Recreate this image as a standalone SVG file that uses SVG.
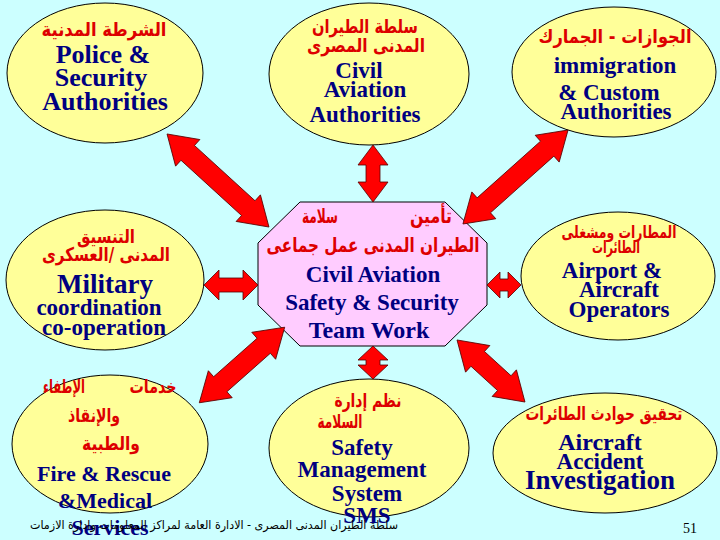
<svg xmlns="http://www.w3.org/2000/svg" width="720" height="540" viewBox="0 0 720 540">
<style>
.bg{fill:#ccffff}
.ell{fill:#ffff99;stroke:#000;stroke-width:1}
.oct{fill:#ffccff;stroke:#000;stroke-width:1}
.arr{fill:#ff0000;stroke:#550000;stroke-width:0.8;stroke-linejoin:miter}
.en{font-family:"Liberation Serif","Times New Roman",serif;font-weight:bold;fill:#000080;text-anchor:middle}
.ar{font-family:"DejaVu Sans","Noto Sans",sans-serif;font-weight:bold;fill:#dd0000;text-anchor:middle}
.ft{font-family:"DejaVu Sans","Liberation Sans",sans-serif;fill:#000;font-size:12px;text-anchor:middle}
</style>
<rect class="bg" x="0" y="0" width="720" height="540"/>

<g id="police">
<ellipse class="ell" cx="105" cy="73" rx="98" ry="70"/>
<text class="ar" x="104" y="36" font-size="19" textLength="125" lengthAdjust="spacingAndGlyphs">الشرطة المدنية</text>
<text class="en" x="103" y="63" font-size="26">Police &amp;</text>
<text class="en" x="101" y="86" font-size="26">Security</text>
<text class="en" x="105" y="110" font-size="26">Authorities</text>
</g>

<g id="civil-aviation">
<ellipse class="ell" cx="369" cy="74" rx="100" ry="71"/>
<text class="ar" x="365" y="33" font-size="19" textLength="106" lengthAdjust="spacingAndGlyphs">سلطة الطيران</text>
<text class="ar" x="366" y="52" font-size="19" textLength="118" lengthAdjust="spacingAndGlyphs">المدنى المصرى</text>
<text class="en" x="359" y="78" font-size="23">Civil</text>
<text class="en" x="365" y="97" font-size="23">Aviation</text>
<text class="en" x="365" y="122" font-size="23">Authorities</text>
</g>

<g id="immigration">
<ellipse class="ell" cx="614" cy="72" rx="102" ry="65"/>
<text class="ar" x="615" y="43" font-size="19" textLength="153" lengthAdjust="spacingAndGlyphs">الجوازات - الجمارك</text>
<text class="en" x="615" y="73" font-size="23">immigration</text>
<text class="en" x="609" y="100" font-size="23">&amp; Custom</text>
<text class="en" x="616" y="119" font-size="23">Authorities</text>
</g>

<g id="military">
<ellipse class="ell" cx="105" cy="280" rx="99" ry="70"/>
<text class="ar" x="106" y="243" font-size="19" textLength="58" lengthAdjust="spacingAndGlyphs">التنسيق</text>
<text class="ar" x="106" y="261" font-size="19" textLength="128" lengthAdjust="spacingAndGlyphs">المدنى /العسكرى</text>
<text class="en" x="105" y="293" font-size="27">Military</text>
<text class="en" x="99" y="315" font-size="23">coordination</text>
<text class="en" x="104" y="335" font-size="23">co-operation</text>
</g>

<g id="center">
<polygon class="oct" points="300,202 445,202 487,243 487,305 445,346 300,346 258,305 258,243"/>
<text class="ar" x="431" y="223" font-size="20" textLength="42" lengthAdjust="spacingAndGlyphs">تأمين</text>
<text class="ar" x="320" y="223" font-size="20" textLength="36" lengthAdjust="spacingAndGlyphs">سلامة</text>
<text class="ar" x="373" y="252" font-size="20" textLength="213" lengthAdjust="spacingAndGlyphs">الطيران المدنى عمل جماعى</text>
<text class="en" x="373" y="282" font-size="23">Civil Aviation</text>
<text class="en" x="372" y="310" font-size="23">Safety &amp; Security</text>
<text class="en" x="369" y="338" font-size="24">Team Work</text>
</g>

<g id="airport">
<ellipse class="ell" cx="618" cy="276" rx="97" ry="64"/>
<text class="ar" x="619" y="238" font-size="17" textLength="115" lengthAdjust="spacingAndGlyphs">المطارات ومشغلى</text>
<text class="ar" x="616" y="253" font-size="17" textLength="48" lengthAdjust="spacingAndGlyphs">الطائرات</text>
<text class="en" x="612" y="278" font-size="23">Airport &amp;</text>
<text class="en" x="619" y="297" font-size="23">Aircraft</text>
<text class="en" x="619" y="317" font-size="23">Operators</text>
</g>

<g id="fire-rescue">
<ellipse class="ell" cx="110" cy="444" rx="98" ry="69"/>
<text class="ar" x="153" y="393" font-size="19" textLength="47" lengthAdjust="spacingAndGlyphs">خدمات</text>
<text class="ar" x="64" y="393" font-size="19" textLength="42" lengthAdjust="spacingAndGlyphs">الإطفاء</text>
<text class="ar" x="94" y="422" font-size="19" textLength="52" lengthAdjust="spacingAndGlyphs">والإنقاذ</text>
<text class="ar" x="111" y="450" font-size="19" textLength="58" lengthAdjust="spacingAndGlyphs">والطبية</text>
<text class="en" x="104" y="481" font-size="22">Fire &amp; Rescue</text>
<text class="en" x="105" y="508" font-size="22">&amp;Medical</text>
<text class="en" x="110" y="535" font-size="22">Services</text>
</g>

<g id="sms">
<ellipse class="ell" cx="369" cy="448" rx="100" ry="69"/>
<text class="ar" x="368" y="407" font-size="19" textLength="67" lengthAdjust="spacingAndGlyphs">نظم إدارة</text>
<text class="ar" x="340" y="428" font-size="19" textLength="45" lengthAdjust="spacingAndGlyphs">السلامة</text>
<text class="en" x="362" y="455" font-size="23">Safety</text>
<text class="en" x="362" y="477" font-size="23">Management</text>
<text class="en" x="367" y="501" font-size="23">System</text>
<text class="en" x="367" y="523" font-size="23">SMS</text>
</g>

<g id="investigation">
<ellipse class="ell" cx="605" cy="453" rx="112" ry="60"/>
<text class="ar" x="604" y="420" font-size="18" textLength="157" lengthAdjust="spacingAndGlyphs">تحقيق حوادث الطائرات</text>
<text class="en" x="600" y="450" font-size="24">Aircraft</text>
<text class="en" x="600" y="469" font-size="23">Accident</text>
<text class="en" x="600" y="489" font-size="27">Investigation</text>
</g>

<g id="connectors">
<polygon class="arr" transform="translate(218,180.5) rotate(42.4)" points="-69,0 -41,-18 -41,-10 41,-10 41,-18 69,0 41,18 41,10 -41,10 -41,18"/>
<polygon class="arr" transform="translate(515.5,177) rotate(138.2)" points="-70.5,0 -42.5,-18 -42.5,-10 42.5,-10 42.5,-18 70.5,0 42.5,18 42.5,10 -42.5,10 -42.5,18"/>
<polygon class="arr" transform="translate(242,365) rotate(138.5)" points="-57,0 -29,-18 -29,-10 29,-10 29,-18 57,0 29,18 29,10 -29,10 -29,18"/>
<polygon class="arr" transform="translate(491,371) rotate(42.4)" points="-46,0 -18,-18 -18,-10 18,-10 18,-18 46,0 18,18 18,10 -18,10 -18,18"/>
<polygon class="arr" points="373,145 388,165 380,165 380,182 388,182 373,202 358,182 366,182 366,165 358,165"/>
<polygon class="arr" points="373,346 388,360 380,360 380,365 388,365 373,379 358,365 366,365 366,360 358,360"/>
<polygon class="arr" points="204,285 219,270 219,278 243,278 243,270 258,285 243,300 243,292 219,292 219,300"/>
<polygon class="arr" points="487,285 500,272 500,279 508,279 508,272 521,285 508,298 508,291 500,291 500,298"/>
</g>

<g id="footer">
<text class="ft" x="214" y="529" textLength="368" lengthAdjust="spacingAndGlyphs">سلطة الطيران المدنى المصرى  -  الادارة العامة لمراكز المعلومات وادارة الازمات</text>
<text x="690" y="533" font-family="Liberation Serif,serif" font-size="14" fill="#000" text-anchor="middle">51</text>
</g>
</svg>
